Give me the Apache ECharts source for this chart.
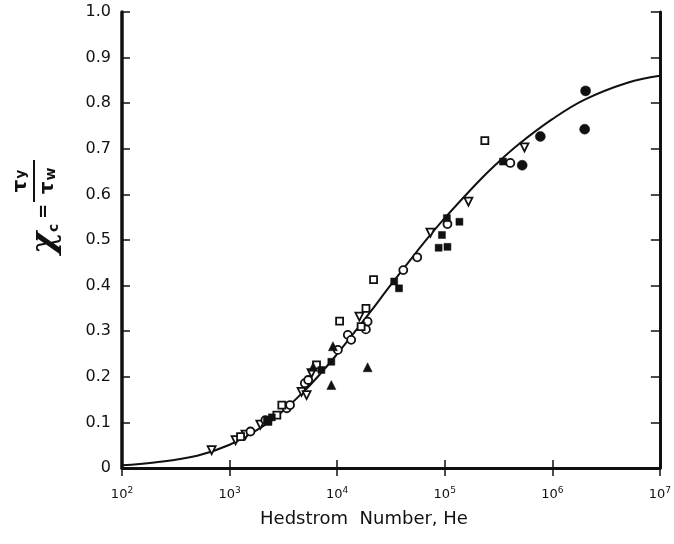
<!DOCTYPE html>
<html>
<head>
<meta charset="utf-8">
<script src="https://cdn.jsdelivr.net/npm/echarts@6/dist/echarts.min.js"></script>
<style>html,body{margin:0;padding:0;background:#fff;}#c{width:674px;height:544px;}</style>
</head>
<body>
<div id="c"></div>
<script>
// Correlation curve
const curveHe = [100, 200, 500, 1000, 2000, 3000, 5000, 7000, 10000, 20000, 30000, 50000, 70000, 100000, 200000, 300000, 500000, 1000000, 2000000, 5000000, 10000000];
const curveXc = [0.006, 0.012, 0.027, 0.051, 0.090, 0.121, 0.170, 0.207, 0.250, 0.340, 0.395, 0.462, 0.505, 0.548, 0.625, 0.666, 0.712, 0.765, 0.808, 0.845, 0.860];

// Open down-triangles
const openTriHe = [681, 1137, 1406, 1932, 4670, 5200, 5780, 16100, 73600, 166000, 551000];
const openTriXc = [0.039, 0.061, 0.073, 0.095, 0.167, 0.160, 0.208, 0.332, 0.516, 0.584, 0.703];

// Open circles
const openCircHe = [1563, 2150, 3400, 3650, 5010, 5380, 10150, 12560, 13500, 19200, 18500, 41200, 55500, 106000, 407000];
const openCircXc = [0.080, 0.105, 0.131, 0.138, 0.186, 0.193, 0.259, 0.292, 0.281, 0.321, 0.304, 0.434, 0.462, 0.535, 0.669];

// Open squares
const openSqHe = [1265, 2750, 3060, 6430, 10540, 18530, 16700, 21800, 236000];
const openSqXc = [0.069, 0.116, 0.138, 0.226, 0.322, 0.350, 0.310, 0.413, 0.718];

// Filled squares
const fillSqHe = [2220, 2470, 2300, 7140, 8830, 33900, 37600, 94200, 87800, 106000, 104700, 137000, 348000];
const fillSqXc = [0.105, 0.111, 0.101, 0.215, 0.233, 0.409, 0.394, 0.511, 0.483, 0.485, 0.548, 0.540, 0.672];

// Filled circles
const fillCircHe = [525000, 774000, 2040000, 2000000];
const fillCircXc = [0.664, 0.727, 0.827, 0.743];

// Filled triangles
const fillTriHe = [5990, 9140, 8830, 19200];
const fillTriXc = [0.222, 0.267, 0.182, 0.221];

const yTicks = ['0', '0.1', '0.2', '0.3', '0.4', '0.5', '0.6', '0.7', '0.8', '0.9', '1.0'];
const xTitle = 'Hedstrom  Number, He';

function pairs(xs, ys) { return xs.map((x, i) => [x, ys[i]]); }

const ink = '#111';
const chart = echarts.init(document.getElementById('c'));

function scatter(name, xs, ys, symbol, filled, size, rot) {
  return {
    name: name, type: 'scatter', data: pairs(xs, ys), symbol: symbol,
    symbolSize: size, symbolRotate: rot || 0, z: 5,
    itemStyle: { color: filled ? ink : '#fff', borderColor: ink, borderWidth: filled ? 0.5 : 1.8, opacity: 1 },
    emphasis: { disabled: true }
  };
}

chart.setOption({
  animation: false,
  backgroundColor: '#fff',
  grid: { left: 122, right: 8, top: 12, bottom: 76 },
  xAxis: [{
    type: 'log', logBase: 10, min: 100, max: 10000000,
    axisLine: { show: true, lineStyle: { color: ink, width: 3 } },
    axisTick: { show: true, inside: true, length: 8, lineStyle: { color: ink, width: 1.5 } },
    minorTick: { show: false },
    splitLine: { show: false },
    axisLabel: {
      margin: 18,
      formatter: function (v) { return '{b|10}{s|' + Math.round(Math.log10(v)) + '}'; },
      rich: {
        b: { fontFamily: 'DejaVu Sans', fontSize: 13, color: ink },
        s: { fontFamily: 'DejaVu Sans', fontSize: 9, color: ink, verticalAlign: 'top', padding: [0, 0, 8, 0] }
      }
    }
  }, {
    type: 'log', logBase: 10, min: 100, max: 10000000, position: 'top',
    axisLine: { show: true, lineStyle: { color: ink, width: 2.5 } },
    axisTick: { show: true, inside: true, length: 8, lineStyle: { color: ink, width: 1.5 } },
    axisLabel: { show: false }, splitLine: { show: false }
  }],
  yAxis: [{
    type: 'value', min: 0, max: 1, interval: 0.1,
    axisLine: { show: true, lineStyle: { color: ink, width: 3.5 } },
    axisTick: { show: true, inside: true, length: 8, lineStyle: { color: ink, width: 1.5 } },
    splitLine: { show: false },
    axisLabel: {
      margin: 11, fontFamily: 'DejaVu Sans', fontSize: 16, color: ink,
      formatter: function (v) { return yTicks[Math.round(v * 10)]; }
    }
  }, {
    type: 'value', min: 0, max: 1, interval: 0.1, position: 'right',
    axisLine: { show: true, lineStyle: { color: ink, width: 3 } },
    axisTick: { show: true, inside: true, length: 9, lineStyle: { color: ink, width: 1.5 } },
    splitLine: { show: false }, axisLabel: { show: false }
  }],
  series: [
    {
      type: 'line', data: pairs(curveHe, curveXc), smooth: 0.4, showSymbol: false, z: 2,
      lineStyle: { color: ink, width: 2 }, emphasis: { disabled: true }
    },
    scatter('openTri', openTriHe, openTriXc, 'triangle', false, 8, 180),
    scatter('openCirc', openCircHe, openCircXc, 'circle', false, 8),
    scatter('openSq', openSqHe, openSqXc, 'rect', false, 7),
    scatter('fillSq', fillSqHe, fillSqXc, 'rect', true, 7),
    scatter('fillCirc', fillCircHe, fillCircXc, 'circle', true, 10),
    scatter('fillTri', fillTriHe, fillTriXc, 'triangle', true, 9)
  ],
  graphic: [{
    type: 'text', x: 364, y: 519,
    style: { text: xTitle, font: '18px "DejaVu Sans"', fill: ink, align: 'center', verticalAlign: 'middle' }
  }, {
    type: 'group', x: 34, y: 254, rotation: Math.PI / 2,
    children: [
      { type: 'text', x: 0, y: 11, style: { text: 'χ', font: 'bold italic 34px "DejaVu Serif"', fill: ink, align: 'left', verticalAlign: 'middle' } },
      { type: 'text', x: 22, y: 20, style: { text: 'c', font: 'bold 14px "DejaVu Sans"', fill: ink, align: 'left', verticalAlign: 'middle' } },
      { type: 'text', x: 35, y: 10, style: { text: '=', font: 'bold 18px "DejaVu Sans"', fill: ink, align: 'left', verticalAlign: 'middle' } },
      { type: 'line', shape: { x1: 52, y1: 0, x2: 94, y2: 0 }, style: { stroke: ink, lineWidth: 2 } },
      { type: 'text', x: 73, y: -13, style: { text: '{t|τ}{s|y}', align: 'center', verticalAlign: 'middle',
          rich: { t: { font: 'bold 20px "DejaVu Sans"', fill: ink }, s: { font: 'bold 14px "DejaVu Sans"', fill: ink, padding: [0, 0, 0, 1] } } } },
      { type: 'text', x: 73, y: 14, style: { text: '{t|τ}{s|w}', align: 'center', verticalAlign: 'middle',
          rich: { t: { font: 'bold 20px "DejaVu Sans"', fill: ink }, s: { font: 'bold 14px "DejaVu Sans"', fill: ink, padding: [6, 0, 0, 1] } } } }
    ]
  }]
});
</script>
</body>
</html>
